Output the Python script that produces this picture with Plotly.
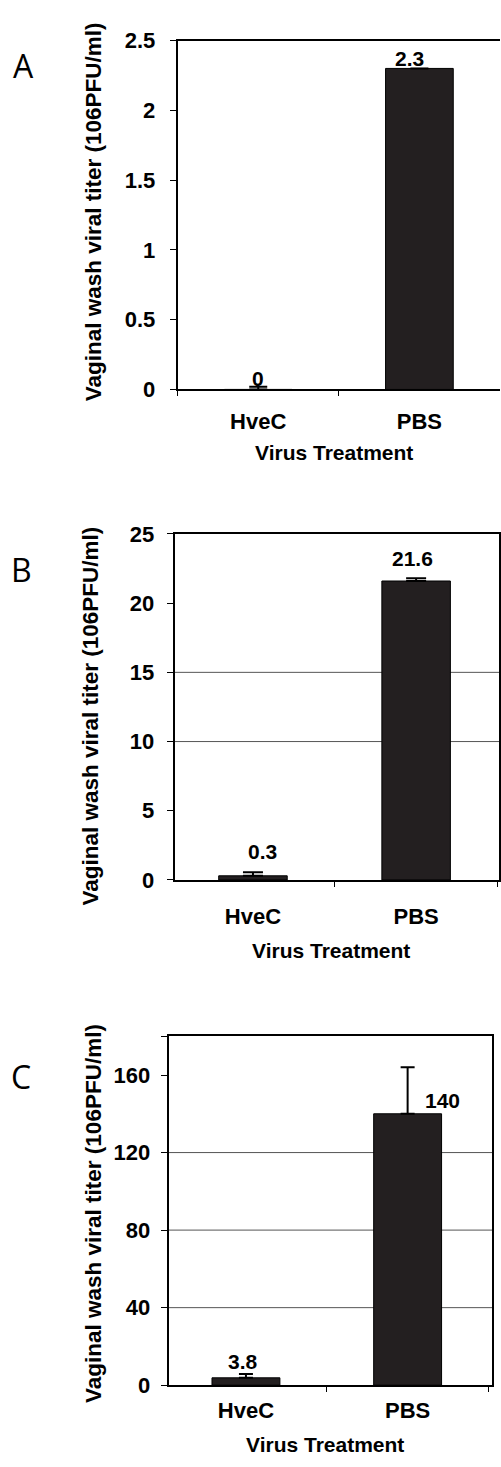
import plotly.graph_objects as go

# ---------------- data ----------------
categories = ["HveC", "PBS"]

a_values = [0, 2.3]
a_errors = [0.02, 0.0]
a_labels = ["0", "2.3"]

b_values = [0.3, 21.6]
b_errors = [0.25, 0.2]
b_labels = ["0.3", "21.6"]

c_values = [3.8, 140]
c_errors = [2.0, 24]
c_labels = ["3.8", "140"]

a_ticks = [0, 0.5, 1, 1.5, 2, 2.5]
a_ticktext = ["0", "0.5", "1", "1.5", "2", "2.5"]
b_ticks = [0, 5, 10, 15, 20, 25]
b_ticktext = ["0", "5", "10", "15", "20", "25"]
c_ticks = [0, 40, 80, 120, 160, 180]
c_ticktext = ["0", "40", "80", "120", "160", ""]

b_grid = [10, 15]
c_grid = [40, 80, 120]

y_title = "Vaginal wash viral titer (106PFU/ml)"
x_title = "Virus Treatment"
panel_letters = ["A", "B", "C"]

# ---------------- styling ----------------
W, H = 501, 1467
BAR = "#231f20"
FONT = "Liberation Sans"


def px(x):
    return x / W


def py(y):
    return 1 - y / H


fig = go.Figure()

panels = [
    dict(vals=a_values, errs=a_errors, labels=a_labels, ticks=a_ticks, ticktext=a_ticktext,
         yrange=[0, 2.5], xrange=[-0.5, 1.5], xdom=[178, 502], ydom=[29, 384],
         mirror_y=False, grid=[], lab_dy=[11, 10], lab_dx=[0, -10], capw=9,
         ystand=10, xstand=11, ytitle_xy=(94, 203), xtitle_xy=(335, 448), letter_xy=(24, 54)),
    dict(vals=b_values, errs=b_errors, labels=b_labels, ticks=b_ticks, ticktext=b_ticktext,
         yrange=[0, 25], xrange=[-0.48, 1.508], xdom=[175, 500], ydom=[531, 883],
         mirror_y=True, grid=b_grid, lab_dy=[24, 23], lab_dx=[10, -4], capw=10,
         ystand=8, xstand=16, ytitle_xy=(91, 716), xtitle_xy=(332, 955), letter_xy=(22, 567)),
    dict(vals=c_values, errs=c_errors, labels=c_labels, ticks=c_ticks, ticktext=c_ticktext,
         yrange=[0, 180], xrange=[-0.478, 1.522], xdom=[169, 493], ydom=[1042, 1397],
         mirror_y=True, grid=c_grid, lab_dy=[16, 13], lab_dx=[-3, 35], capw=7,
         ystand=6, xstand=4, ytitle_xy=(93, 1222), xtitle_xy=(326, 1457), letter_xy=(21, 1083)),
]

annotations = []
shapes = []
for i, p in enumerate(panels):
    n = "" if i == 0 else str(i + 1)
    xa, ya = "x" + n, "y" + n
    fig.add_trace(go.Bar(
        x=categories, y=p["vals"], xaxis=xa, yaxis=ya, width=0.42,
        marker=dict(color=BAR, line=dict(color="black", width=1)),
        error_y=dict(type="data", array=p["errs"], arrayminus=[0] * len(p["errs"]),
                     symmetric=False, color="black", thickness=2, width=p["capw"]),
        showlegend=False, hoverinfo="x+y",
    ))
    tf = dict(family=FONT, size=22, color="black", weight="bold")
    fig.layout["xaxis" + n] = dict(
        domain=[px(p["xdom"][0]), min(1.0, px(p["xdom"][1]))], range=p["xrange"],
        anchor=ya, showline=True, linecolor="black", linewidth=2, mirror=True,
        ticks="outside", tickson="boundaries", ticklen=5, tickcolor="black",
        tickfont=tf, ticklabelstandoff=p["xstand"], showgrid=False, fixedrange=True,
    )
    fig.layout["yaxis" + n] = dict(
        domain=[py(p["ydom"][1]), py(p["ydom"][0])], range=p["yrange"],
        anchor=xa, showline=True, linecolor="black", linewidth=2,
        mirror=p["mirror_y"], ticks="outside", ticklen=6, tickcolor="black",
        tickvals=p["ticks"], ticktext=p["ticktext"], tickfont=tf,
        ticklabelstandoff=p["ystand"], showgrid=False, zeroline=False, fixedrange=True,
    )
    for g in p["grid"]:
        shapes.append(dict(type="line", xref=xa + " domain", yref=ya, x0=0, x1=1, y0=g, y1=g,
                           line=dict(color="#555555", width=1), layer="below"))
    for j, (cat, v, e, t) in enumerate(zip(categories, p["vals"], p["errs"], p["labels"])):
        annotations.append(dict(
            x=cat, y=v, xref=xa, yref=ya, text=t, showarrow=False,
            xanchor="center", yanchor="middle", xshift=p["lab_dx"][j], yshift=p["lab_dy"][j],
            font=dict(family=FONT, size=21, color="black", weight="bold"),
        ))
    tx, ty = p["ytitle_xy"]
    annotations.append(dict(x=px(tx), y=py(ty), xref="paper", yref="paper", text=y_title,
                            textangle=-90, showarrow=False, xanchor="center", yanchor="middle",
                            font=dict(family=FONT, size=22.5, color="black", weight="bold")))
    tx, ty = p["xtitle_xy"]
    annotations.append(dict(x=px(tx), y=py(ty), xref="paper", yref="paper", text=x_title,
                            showarrow=False, xanchor="center", yanchor="middle",
                            font=dict(family=FONT, size=21, color="black", weight="bold")))
    tx, ty = p["letter_xy"]
    annotations.append(dict(x=px(tx), y=py(ty), xref="paper", yref="paper", text=panel_letters[i],
                            showarrow=False, xanchor="center", yanchor="middle",
                            font=dict(family="Open Sans", size=32, color="black")))

fig.update_layout(
    width=W, height=H, margin=dict(l=0, r=0, t=0, b=0),
    paper_bgcolor="white", plot_bgcolor="white",
    annotations=annotations, shapes=shapes, barmode="group",
)

fig.write_html("out.html", config={"displayModeBar": False},
               post_script="document.body.style.margin='0px';")
